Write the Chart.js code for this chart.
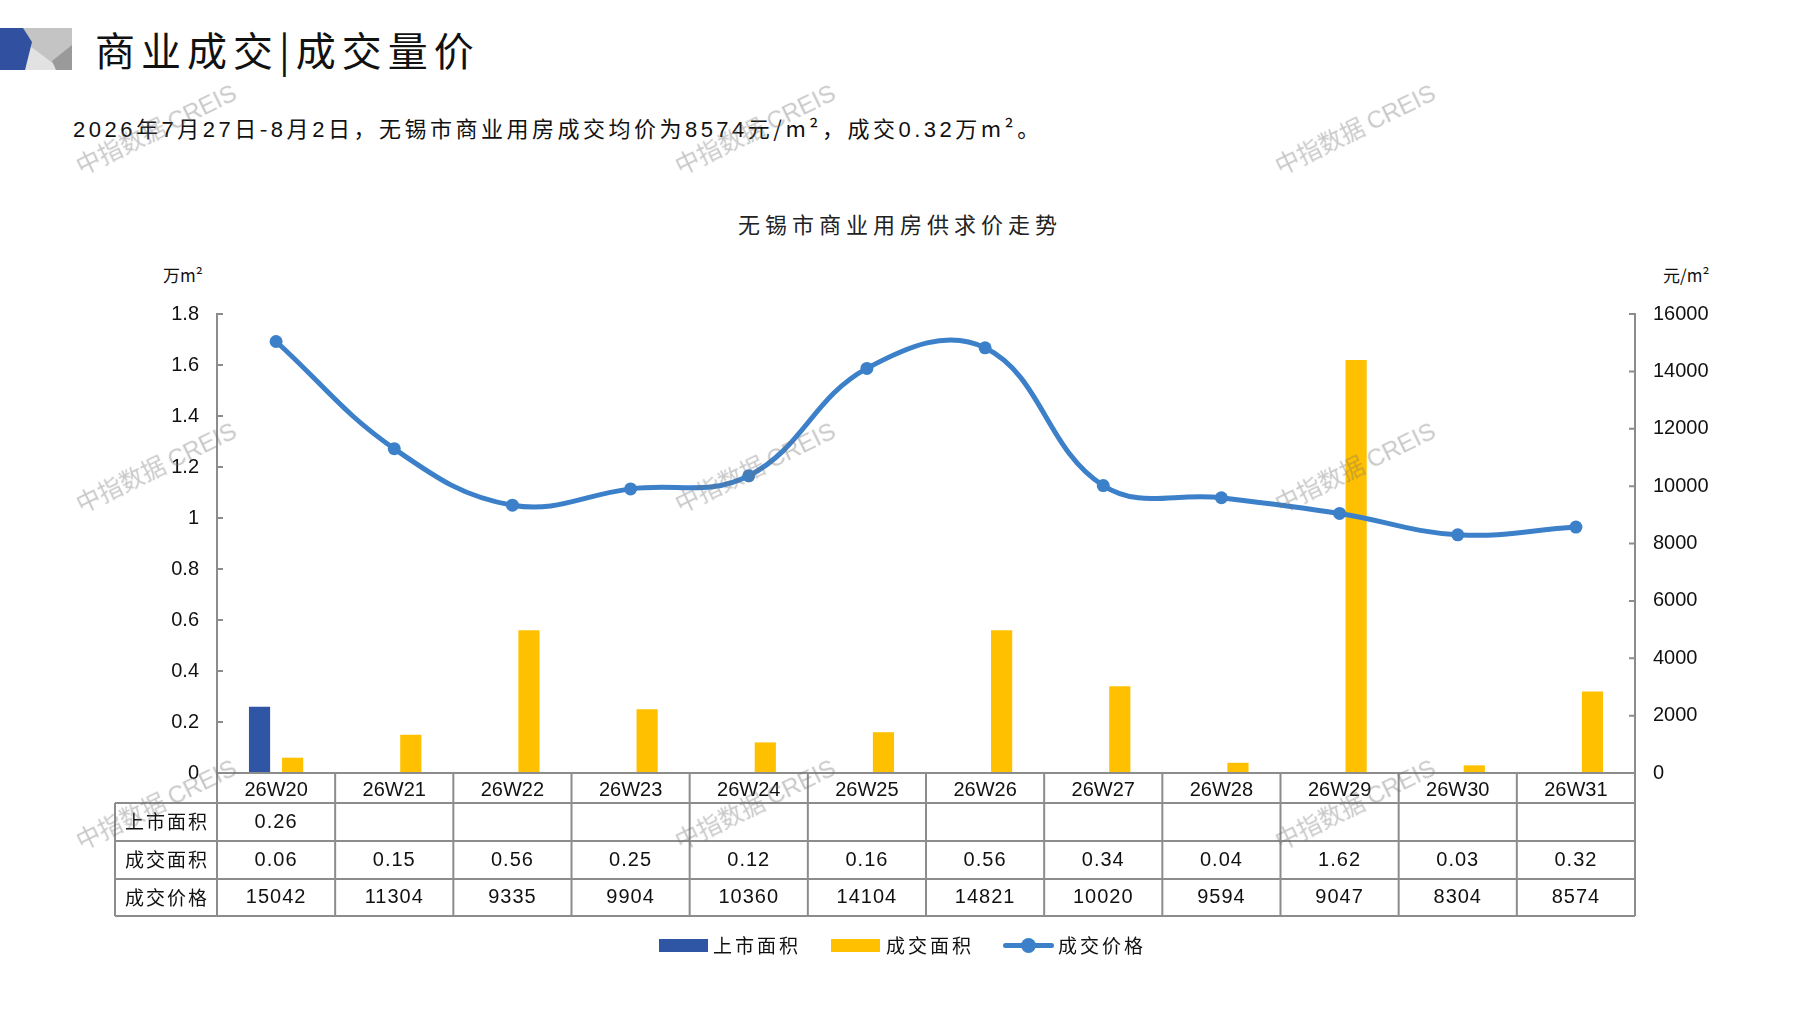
<!DOCTYPE html>
<html><head><meta charset="utf-8">
<script src="https://cdn.jsdelivr.net/npm/chart.js@4.4.1/dist/chart.umd.min.js"></script>
<style>
html,body{margin:0;padding:0;background:#fff;}
#wrap{position:relative;width:1797px;height:1010px;overflow:hidden;background:#fff;font-family:"Noto Sans CJK SC",sans-serif;color:#111;}
canvas{position:absolute;left:0;top:0;}
.t{position:absolute;white-space:nowrap;}
#title{left:95px;top:21px;font-size:40px;letter-spacing:6px;line-height:56px;}
#sub{left:73px;top:112px;font-size:22px;letter-spacing:3.5px;line-height:30px;}
#ctitle{left:0;width:1800px;text-align:center;top:208px;font-size:22px;letter-spacing:5px;line-height:30px;color:#222;}
#ul{left:163px;top:263px;font-size:17px;line-height:24px;}
#ur{left:1663px;top:263px;font-size:17px;line-height:24px;}
.num{font-family:"Liberation Sans",Arial,sans-serif;}
.wm{position:absolute;font-size:24px;color:rgba(110,110,110,0.38);transform:rotate(-26deg);transform-origin:center;white-space:nowrap;font-family:"Noto Sans CJK SC",sans-serif;z-index:5;}
.wm span{font-family:"Liberation Sans",Arial,sans-serif;}
#legend{position:absolute;top:931px;left:0;width:1797px;height:30px;font-size:19px;letter-spacing:3px;}
.lg{position:absolute;top:0;line-height:28px;}
.sw{position:absolute;}
</style></head>
<body><div id="wrap">
<svg style="position:absolute;left:0;top:28px" width="74" height="43" viewBox="0 0 74 43">
<polygon points="23,0 72,0 72,42 25,42" fill="#c4c4c4"/>
<polygon points="25,42 30,18 62,42" fill="#e2e2e2"/>
<polygon points="72,17 72,42 56,42 52,33" fill="#9a9a9a"/>
<polygon points="0,0 23,0 32,14 25,42 0,42" fill="#3150a0"/>
</svg>
<div class="t" id="title">商业成交|成交量价</div>
<div class="t" id="sub"><span class="num">2026</span>年<span class="num">7</span>月<span class="num">27</span>日-<span class="num">8</span>月<span class="num">2</span>日，无锡市商业用房成交均价为<span class="num">8574</span>元/m²，成交<span class="num">0.32</span>万m²。</div>
<div class="t" id="ctitle">无锡市商业用房供求价走势</div>
<div class="t" id="ul">万m²</div>
<div class="t" id="ur">元/m²</div>
<canvas id="c" width="1797" height="1010"></canvas>
<div id="legend">
 <div class="sw" style="left:659px;top:8px;width:49px;height:13px;background:#2f55a5"></div>
 <div class="lg" style="left:713px">上市面积</div>
 <div class="sw" style="left:831px;top:8px;width:49px;height:13px;background:#ffc000"></div>
 <div class="lg" style="left:886px">成交面积</div>
 <div class="sw" style="left:1003px;top:12px;width:51px;height:5px;background:#3b80c9;border-radius:3px"></div>
 <div class="sw" style="left:1021px;top:7px;width:15px;height:15px;background:#3b80c9;border-radius:50%"></div>
 <div class="lg" style="left:1058px">成交价格</div>
</div>
<div class="wm" style="left:68px;top:110px">中指数据 <span>CREIS</span></div>
<div class="wm" style="left:667px;top:110px">中指数据 <span>CREIS</span></div>
<div class="wm" style="left:1267px;top:110px">中指数据 <span>CREIS</span></div>
<div class="wm" style="left:68px;top:448px">中指数据 <span>CREIS</span></div>
<div class="wm" style="left:667px;top:448px">中指数据 <span>CREIS</span></div>
<div class="wm" style="left:1267px;top:448px">中指数据 <span>CREIS</span></div>
<div class="wm" style="left:68px;top:785px">中指数据 <span>CREIS</span></div>
<div class="wm" style="left:667px;top:785px">中指数据 <span>CREIS</span></div>
<div class="wm" style="left:1267px;top:785px">中指数据 <span>CREIS</span></div>
</div>
<script>
const categories = ["26W20","26W21","26W22","26W23","26W24","26W25","26W26","26W27","26W28","26W29","26W30","26W31"];
const supplyArea = [0.26,null,null,null,null,null,null,null,null,null,null,null];
const dealArea = [0.06,0.15,0.56,0.25,0.12,0.16,0.56,0.34,0.04,1.62,0.03,0.32];
const dealPrice = [15042,11304,9335,9904,10360,14104,14821,10020,9594,9047,8304,8574];
const rowLabels = ["上市面积","成交面积","成交价格"];
const seriesNames = ["上市面积","成交面积","成交价格"];

const GRAY = '#8c8c8c';
const NUMFONT = '"Liberation Sans", Arial, sans-serif';
const CJKFONT = '"Noto Sans CJK SC", sans-serif';

const tablePlugin = {
  id: 'tablePlugin',
  afterDraw(chart) {
    const ctx = chart.ctx, ca = chart.chartArea, xs = chart.scales.x;
    const yL = chart.scales.y, yR = chart.scales.y1;
    const n = categories.length;
    const y0 = ca.bottom, y1 = y0 + 30, y2 = y1 + 38, y3 = y2 + 38, y4 = y3 + 37;
    const labLeft = 115;
    const bounds = [];
    for (let i = 0; i <= n; i++) {
      if (i === 0) bounds.push(ca.left);
      else if (i === n) bounds.push(ca.right);
      else bounds.push((xs.getPixelForValue(i - 1) + xs.getPixelForValue(i)) / 2);
    }
    ctx.save();
    ctx.strokeStyle = GRAY; ctx.lineWidth = 2;
    ctx.beginPath();
    ctx.moveTo(ca.left, y0); ctx.lineTo(ca.right, y0);
    [y1, y2, y3, y4].forEach(y => { ctx.moveTo(labLeft, y); ctx.lineTo(ca.right, y); });
    bounds.forEach(b => { ctx.moveTo(b, y0); ctx.lineTo(b, y4); });
    ctx.moveTo(labLeft, y1); ctx.lineTo(labLeft, y4);
    yL.ticks.forEach(t => { const y = yL.getPixelForValue(t.value); ctx.moveTo(ca.left, y); ctx.lineTo(ca.left + 6, y); });
    yR.ticks.forEach(t => { const y = yR.getPixelForValue(t.value); ctx.moveTo(ca.right, y); ctx.lineTo(ca.right - 6, y); });
    ctx.stroke();
    ctx.fillStyle = '#111'; ctx.textAlign = 'center'; ctx.textBaseline = 'middle';
    const rows = [[y1, y2], [y2, y3], [y3, y4]];
    ctx.font = '19px ' + CJKFONT;
    ctx.letterSpacing = '2px';
    rows.forEach((r, k) => ctx.fillText(rowLabels[k], (labLeft + ca.left) / 2 + 1, (r[0] + r[1]) / 2));
    ctx.letterSpacing = '1px';
    ctx.font = '20px ' + NUMFONT;
    for (let i = 0; i < n; i++) {
      const cx = xs.getPixelForValue(i);
      if (supplyArea[i] !== null) ctx.fillText(supplyArea[i].toFixed(2), cx, (y1 + y2) / 2);
      if (dealArea[i] !== null) ctx.fillText(dealArea[i].toFixed(2), cx, (y2 + y3) / 2);
      if (dealPrice[i] !== null) ctx.fillText(String(dealPrice[i]), cx, (y3 + y4) / 2);
    }
    ctx.letterSpacing = '0px';
    ctx.restore();
  }
};

new Chart(document.getElementById('c'), {
  data: {
    labels: categories,
    datasets: [
      { type: 'line', label: seriesNames[2], data: dealPrice, yAxisID: 'y1', order: 0,
        borderColor: '#3b80c9', backgroundColor: '#3b80c9', borderWidth: 5,
        pointRadius: 6.5, pointHoverRadius: 6.5, pointBackgroundColor: '#3b80c9', pointBorderWidth: 0,
        tension: 0.4, fill: false },
      { type: 'bar', label: seriesNames[0], data: supplyArea, yAxisID: 'y', order: 1,
        backgroundColor: '#2f55a5', categoryPercentage: 0.56, barPercentage: 0.64 },
      { type: 'bar', label: seriesNames[1], data: dealArea, yAxisID: 'y', order: 1,
        backgroundColor: '#ffc000', categoryPercentage: 0.56, barPercentage: 0.64 }
    ]
  },
  options: {
    responsive: false, animation: false, devicePixelRatio: 1,
    layout: { padding: { top: 314, bottom: 207, left: 0, right: 0 } },
    plugins: { legend: { display: false }, tooltip: { enabled: false }, title: { display: false } },
    scales: {
      x: {
        grid: { display: false, drawTicks: false }, border: { display: false },
        ticks: { color: '#111', font: { family: NUMFONT, size: 20 }, padding: 5, autoSkip: false, maxRotation: 0 },
        afterFit(s) { s.height = 30; }
      },
      y: {
        position: 'left', min: 0, max: 1.8,
        grid: { display: false, drawTicks: false }, border: { display: true, color: GRAY, width: 2 },
        ticks: { stepSize: 0.2, color: '#111', font: { family: NUMFONT, size: 20 }, padding: 18,
          callback: v => String(Math.round(v * 10) / 10) },
        afterFit(s) { s.width = 217; }
      },
      y1: {
        position: 'right', min: 0, max: 16000,
        grid: { display: false, drawTicks: false }, border: { display: true, color: GRAY, width: 2 },
        ticks: { stepSize: 2000, color: '#111', font: { family: NUMFONT, size: 20 }, padding: 18,
          callback: v => String(v) },
        afterFit(s) { s.width = 162; }
      }
    }
  },
  plugins: [tablePlugin]
});
</script>
</body></html>
